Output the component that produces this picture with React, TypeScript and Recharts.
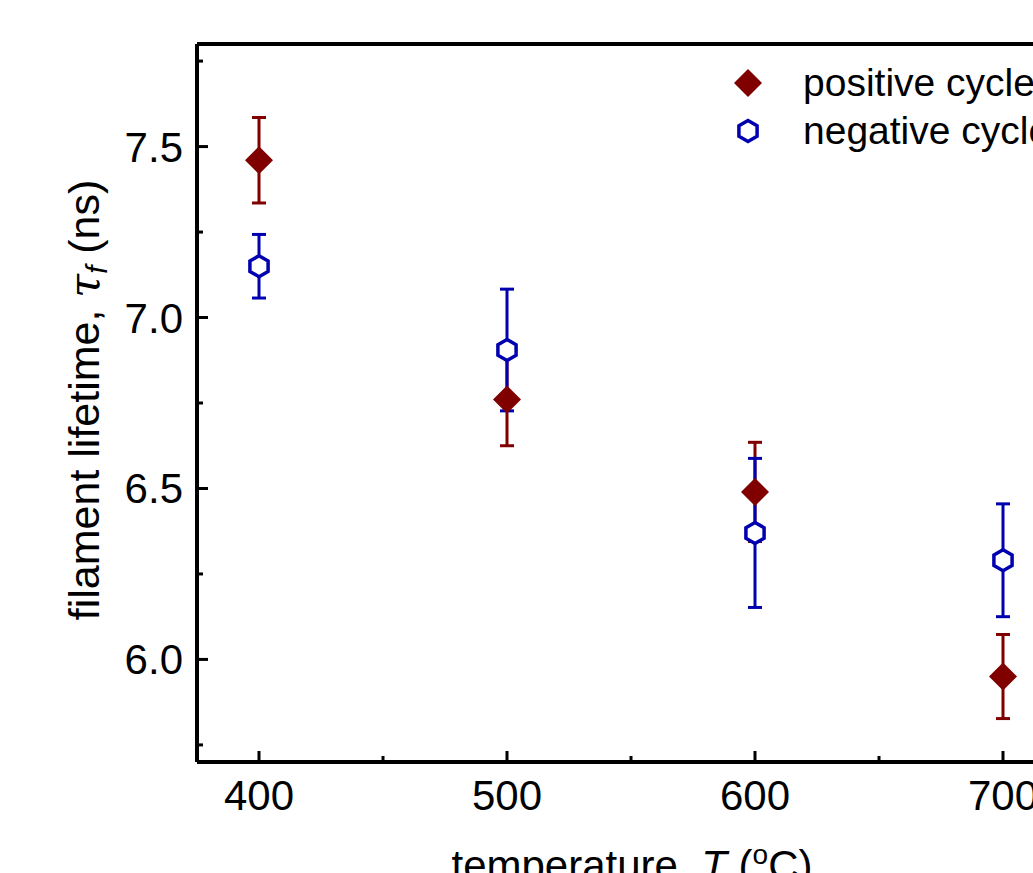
import React from "react";
import { ScatterChart, Scatter, XAxis, YAxis, ErrorBar, Legend } from "recharts";

// Filament lifetime vs temperature, positive / negative switching cycles.
// Values.

const temperatures = [400, 500, 600, 700];
const positiveLifetime = [7.46, 6.76, 6.49, 5.95];
const positiveError = [0.125, 0.135, 0.145, 0.123];
const negativeLifetime = [7.15, 6.905, 6.37, 6.29];
const negativeError = [0.093, 0.178, 0.218, 0.165];

const xTicks = [400, 450, 500, 550, 600, 650, 700];
const xMajor = [400, 500, 600, 700];
const yTicks = [5.75, 6.0, 6.25, 6.5, 6.75, 7.0, 7.25, 7.5, 7.75];
const yMajor = [6.0, 6.5, 7.0, 7.5];

const RED = "#800000";
const BLUE = "#0000b0";
const FONT = "'Liberation Sans', Arial, sans-serif";

const positiveData = temperatures.map((t, i) => ({
  x: t,
  y: positiveLifetime[i],
  err: positiveError[i],
}));
const negativeData = temperatures.map((t, i) => ({
  x: t,
  y: negativeLifetime[i],
  err: negativeError[i],
}));

function Diamond({ cx, cy }: any) {
  const r = 14;
  return (
    <polygon
      points={`${cx},${cy - r} ${cx + r},${cy} ${cx},${cy + r} ${cx - r},${cy}`}
      fill={RED}
    />
  );
}

function hexPoints(cx: number, cy: number, r: number) {
  return [-90, -30, 30, 90, 150, 210]
    .map((a) => {
      const rad = (a * Math.PI) / 180;
      return `${cx + r * Math.cos(rad)},${cy + r * Math.sin(rad)}`;
    })
    .join(" ");
}

function Hexagon({ cx, cy }: any) {
  return <polygon points={hexPoints(cx, cy, 10.5)} fill="#fff" stroke={BLUE} strokeWidth={3.5} />;
}

function BottomTick({ x, y, payload }: any) {
  const major = xMajor.includes(payload.value);
  return (
    <g>
      <line x1={x} x2={x} y1={y} y2={y - (major ? 11 : 6)} stroke="#000" strokeWidth={3} />
      {major && (
        <text x={x} y={y + 48} textAnchor="middle" fontSize={42} fontFamily={FONT} fill="#000">
          {payload.value}
        </text>
      )}
    </g>
  );
}

function TopTick({ x, y, payload }: any) {
  const major = xMajor.includes(payload.value);
  return <line x1={x} x2={x} y1={y} y2={y + (major ? 11 : 6)} stroke="#000" strokeWidth={3} />;
}

function LeftTick({ x, y, payload }: any) {
  const major = yMajor.includes(payload.value);
  return (
    <g>
      <line x1={x} x2={x + (major ? 11 : 6)} y1={y} y2={y} stroke="#000" strokeWidth={3} />
      {major && (
        <text x={x - 14} y={y + 15} textAnchor="end" fontSize={42} fontFamily={FONT} fill="#000">
          {payload.value.toFixed(1)}
        </text>
      )}
    </g>
  );
}

function YTitle() {
  return (
    <text
      x={99}
      y={400}
      transform="rotate(-90, 99, 400)"
      textAnchor="middle"
      fontSize={43}
      fontFamily={FONT}
      fill="#000"
    >
      filament lifetime,{" "}
      <tspan fontStyle="italic" fontFamily="'DejaVu Serif', serif">τ</tspan>
      <tspan fontStyle="italic" fontSize={29} dy={8}>f</tspan>
      <tspan dy={-8}> (ns)</tspan>
    </text>
  );
}

function XTitle() {
  return (
    <text x={632} y={880} textAnchor="middle" fontSize={42} fontFamily={FONT} fill="#000">
      temperature, <tspan fontStyle="italic">T</tspan> (
      <tspan fontSize={28} dy={-16}>o</tspan>
      <tspan dy={16}>C)</tspan>
    </text>
  );
}

const legendItems = [
  { name: "positive cycle", shape: "diamond" },
  { name: "negative cycle", shape: "hexagon" },
];

function LegendBox() {
  return (
    <div style={{ fontFamily: FONT, fontSize: 39, color: "#000" }}>
      {legendItems.map((item) => (
        <div key={item.name} style={{ display: "flex", alignItems: "center", height: 48, whiteSpace: "nowrap" }}>
          <svg width={48} height={48}>
            {item.shape === "diamond" ? <Diamond cx={24} cy={24} /> : <Hexagon cx={24} cy={24} />}
          </svg>
          <span style={{ marginLeft: 31, lineHeight: "48px" }}>{item.name}</span>
        </div>
      ))}
    </div>
  );
}

export default function App() {
  return (
    <div
      style={{
        position: "absolute",
        left: 0,
        top: 0,
        width: 1033,
        height: 873,
        overflow: "hidden",
        background: "#fff",
      }}
    >
      <ScatterChart width={1100} height={900} margin={{ top: 14, right: 35, bottom: 38, left: 0 }}>
        <XAxis
          xAxisId={0}
          dataKey="x"
          type="number"
          domain={[375, 725]}
          ticks={xTicks}
          interval={0}
          allowDataOverflow
          height={100}
          tickSize={0}
          tickMargin={0}
          tick={BottomTick}
          axisLine={{ stroke: "#000", strokeWidth: 4 }}
          label={<XTitle />}
        />
        <XAxis
          xAxisId="top"
          orientation="top"
          type="number"
          domain={[375, 725]}
          ticks={xTicks}
          interval={0}
          allowDataOverflow
          height={30}
          tickSize={0}
          tickMargin={0}
          tick={TopTick}
          axisLine={{ stroke: "#000", strokeWidth: 4 }}
        />
        <YAxis
          dataKey="y"
          type="number"
          domain={[5.7, 7.8]}
          ticks={yTicks}
          interval={0}
          allowDataOverflow
          width={197}
          tickSize={0}
          tickMargin={0}
          tick={LeftTick}
          axisLine={{ stroke: "#000", strokeWidth: 4 }}
          label={<YTitle />}
        />
        <Legend
          layout="vertical"
          align="center"
          verticalAlign="middle"
          content={<LegendBox />}
          wrapperStyle={{ top: 59, left: 724, width: 400 }}
        />
        <Scatter name="positive cycle" data={positiveData} shape={Diamond} fill={RED} isAnimationActive={false}>
          <ErrorBar dataKey="err" direction="y" width={7} strokeWidth={3} stroke={RED} isAnimationActive={false} />
        </Scatter>
        <Scatter name="negative cycle" data={negativeData} shape={Hexagon} fill={BLUE} isAnimationActive={false}>
          <ErrorBar dataKey="err" direction="y" width={7} strokeWidth={3} stroke={BLUE} isAnimationActive={false} />
        </Scatter>
      </ScatterChart>
    </div>
  );
}
